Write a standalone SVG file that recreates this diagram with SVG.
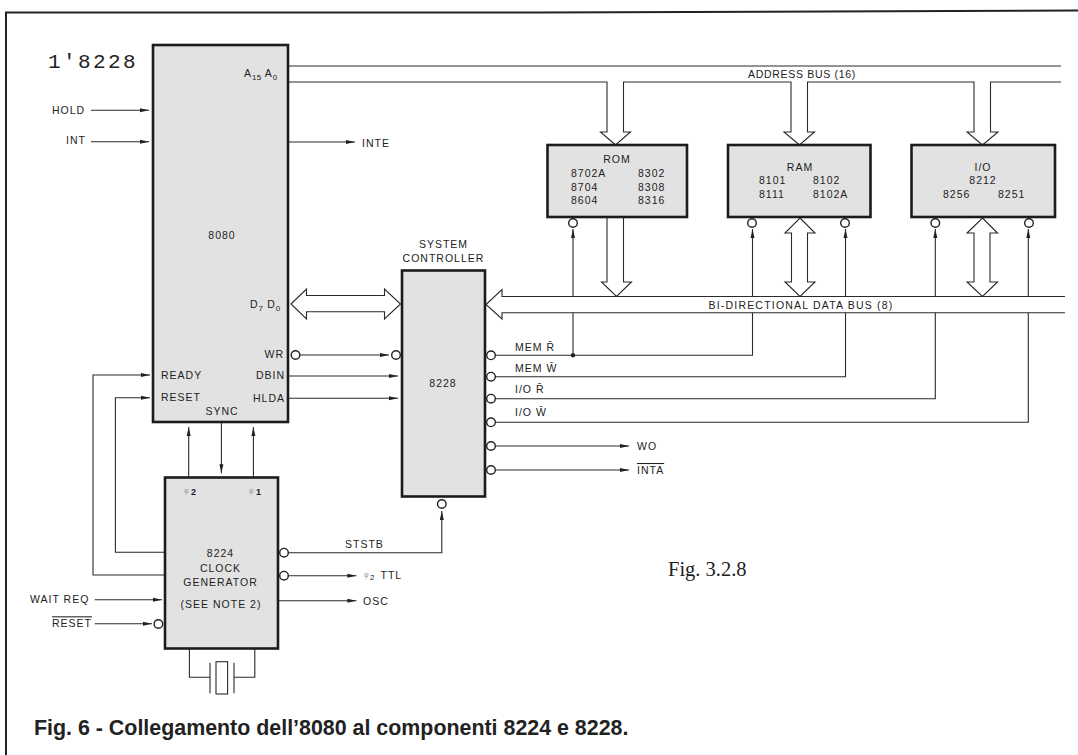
<svg xmlns="http://www.w3.org/2000/svg" width="1078" height="755" viewBox="0 0 1078 755">
<defs>
<marker id="ah" markerUnits="userSpaceOnUse" markerWidth="10" markerHeight="6" refX="9" refY="3" orient="auto"><path d="M0,1 L9,3 L0,5 Z" fill="#222"/></marker>
</defs>
<style>
text{font-family:"Liberation Sans",Arial,sans-serif;font-size:10.500px;fill:#222;letter-spacing:1px}
.b{fill:#e2e2e2;stroke:#1c1c1c;stroke-width:2.600}
.l{fill:none;stroke:#2a2a2a;stroke-width:1.100}
.a{fill:none;stroke:#2a2a2a;stroke-width:1.100;marker-end:url(#ah)}
.h{fill:#fff;stroke:#2a2a2a;stroke-width:1.100}
.o{fill:#fff;stroke:#222;stroke-width:1.400}
.s{font-size:8px;letter-spacing:.3px}
.p{font-size:7px;letter-spacing:0;fill:#999}
.d{font-size:9px;letter-spacing:0;font-weight:bold}
.m{text-anchor:middle}
</style>
<rect width="1078" height="755" fill="#fff"/>
<g id="frame"><path d="M6,755 V12.500 H540 L1078,10.500" fill="none" stroke="#222" stroke-width="2"/></g>
<g id="connectors">
<path class="l" d="M288,66 H1061"/>
<path class="l" d="M288,82 H607 V132 H600.500 L615.500,145 L630.500,132 H623.500 V82 H791 V132 H784 L799.500,145 L814.500,132 H807.500 V82 H974 V132 H967 L982.500,145 L998,132 H990.500 V82 H1061"/>
<path class="h" d="M607,217 V282 H601.500 L616.500,296.500 L631.500,282 H623.500 V217 Z"/>
<path class="h" d="M800,218 L815,233 H807.500 V282 H815 L800,296.500 L785,282 H791.500 V233 H785 Z"/>
<path class="h" d="M982.500,218 L997.500,233 H990 V282 H997.500 L982.500,296.500 L967,282 H974 V233 H967 Z"/>
<path class="h" d="M1065,296.500 H502 V289.500 L486,304.500 L502,319 V312.700 H1065"/>
<path class="h" d="M291,304 L306.500,289 V295.500 H384.500 V289 L400.500,304 L384.500,319 V311.700 H306.500 V319 Z"/>
<path class="l" d="M495,355.300 H752.500 V312.700"/>
<path class="a" d="M752.500,296.500 V229"/>
<path class="l" d="M573,355.300 V312.700"/>
<path class="a" d="M573,296.500 V229"/>
<circle cx="573" cy="355.300" r="2.200" fill="#222"/>
<path class="l" d="M495,376.700 H845.500 V312.700"/>
<path class="a" d="M845.500,296.500 V229"/>
<path class="l" d="M495,398.700 H935.300 V312.700"/>
<path class="a" d="M935.300,296.500 V229"/>
<path class="l" d="M495,422.300 H1028.300 V312.700"/>
<path class="a" d="M1028.300,296.500 V229"/>
<path class="a" d="M495,446 H629"/>
<path class="a" d="M495,470 H629"/>
<path class="a" d="M91,110.300 H149"/>
<path class="a" d="M91,141.700 H149"/>
<path class="a" d="M288,142 H355"/>
<path class="a" d="M299.500,355 H389"/>
<path class="a" d="M288,376 H398"/>
<path class="a" d="M288,398.300 H398"/>
<path class="a" d="M164.600,575 H93 V375 H150"/>
<path class="a" d="M164.600,552.300 H115.400 V397.700 H150"/>
<path class="a" d="M188.700,477 V427"/>
<path class="a" d="M253.400,477 V427"/>
<path class="a" d="M221.400,423 V473.300"/>
<path class="a" d="M288,552.700 H441.800 V511"/>
<path class="a" d="M288,575.700 H356.400"/>
<path class="a" d="M278,600.700 H356.400"/>
<path class="a" d="M94.700,599.700 H162"/>
<path class="a" d="M94.700,623.700 H152"/>
<path class="l" d="M189.400,649 V677.300 H210 M210,662.700 V693.300 M254.800,649 V677.300 H234 M234,662.700 V693.300"/>
<rect class="l" x="216" y="661.700" width="11.600" height="32.300"/>
</g>
<g id="cpu8080">
<rect class="b" x="153" y="45" width="135" height="377"/>
<text x="222" y="239" class="m">8080</text>
<text x="244" y="77">A<tspan class="s" dy="3">15</tspan><tspan dy="-3"> A</tspan><tspan class="s" dy="3">0</tspan></text>
<text x="250" y="308">D<tspan class="s" dy="3">7</tspan><tspan dy="-3"> D</tspan><tspan class="s" dy="3">0</tspan></text>
<text x="284" y="358.300" text-anchor="end">WR</text>
<text x="285" y="379.300" text-anchor="end">DBIN</text>
<text x="285" y="401.700" text-anchor="end">HLDA</text>
<text x="161" y="379.300">READY</text>
<text x="161" y="401.300">RESET</text>
<text x="222" y="415.300" class="m">SYNC</text>
<circle class="o" cx="295.500" cy="355" r="4.300"/>
</g>
<g id="controller8228">
<rect class="b" x="402" y="270.500" width="83" height="226"/>
<text x="443" y="387" class="m">8228</text>
<circle class="o" cx="396" cy="355" r="4.300"/>
<circle class="o" cx="491" cy="355.300" r="4.300"/>
<circle class="o" cx="491" cy="376.700" r="4.300"/>
<circle class="o" cx="491" cy="398.700" r="4.300"/>
<circle class="o" cx="491" cy="422.300" r="4.300"/>
<circle class="o" cx="491" cy="446" r="4.300"/>
<circle class="o" cx="491" cy="470" r="4.300"/>
<circle class="o" cx="441.800" cy="504" r="4.300"/>
</g>
<g id="rom">
<rect class="b" x="547.500" y="145" width="139.500" height="72"/>
<text x="617" y="163" class="m">ROM</text>
<text x="571" y="177">8702A</text><text x="638" y="177">8302</text>
<text x="571" y="191">8704</text><text x="638" y="191">8308</text>
<text x="571" y="204">8604</text><text x="638" y="204">8316</text>
<circle class="o" cx="573" cy="223" r="4.300"/>
</g>
<g id="ram">
<rect class="b" x="728" y="145" width="142.500" height="72"/>
<text x="800" y="170.700" class="m">RAM</text>
<text x="759" y="184.300">8101</text><text x="813" y="184.300">8102</text>
<text x="759" y="197.700">8111</text><text x="813" y="197.700">8102A</text>
<circle class="o" cx="752" cy="223" r="4.300"/>
<circle class="o" cx="845" cy="223" r="4.300"/>
</g>
<g id="io">
<rect class="b" x="911.500" y="145" width="143.500" height="72"/>
<text x="983" y="170.700" class="m">I/O</text>
<text x="983" y="184.300" class="m">8212</text>
<text x="943" y="197.700">8256</text><text x="998" y="197.700">8251</text>
<circle class="o" cx="935.300" cy="223" r="4.300"/>
<circle class="o" cx="1029" cy="223" r="4.300"/>
</g>
<g id="clock8224">
<rect class="b" x="165" y="477.500" width="113" height="171"/>
<text x="184" y="493" class="p">φ</text><text x="191" y="495" class="d">2</text>
<text x="249" y="493" class="p">φ</text><text x="256" y="495" class="d">1</text>
<text x="220.500" y="556.700" class="m">8224</text>
<text x="220.500" y="571.700" class="m">CLOCK</text>
<text x="220.500" y="585.700" class="m">GENERATOR</text>
<text x="221" y="608" class="m">(SEE NOTE 2)</text>
<circle class="o" cx="284" cy="552.700" r="4.300"/>
<circle class="o" cx="284" cy="575.700" r="4.300"/>
<circle class="o" cx="158.400" cy="624" r="4.300"/>
</g>
<g id="labels">
<text x="48" y="68" style="font-family:'Liberation Mono',monospace;font-size:21px;letter-spacing:2.400px">1'8228</text>
<text x="52" y="114.300">HOLD</text>
<text x="66" y="144.300">INT</text>
<text x="362" y="147">INTE</text>
<text x="443.500" y="248" class="m">SYSTEM</text>
<text x="443.500" y="261.700" class="m">CONTROLLER</text>
<text x="802" y="78" class="m" style="letter-spacing:.7px">ADDRESS BUS (16)</text>
<text x="801" y="309" class="m" style="letter-spacing:1.200px">BI-DIRECTIONAL DATA BUS (8)</text>
<text x="515" y="350.700">MEM R̄</text>
<text x="515" y="372">MEM W̄</text>
<text x="515" y="393">I/O R̄</text>
<text x="515" y="416">I/O W̄</text>
<text x="637" y="450">WO</text>
<text x="637" y="474" style="text-decoration:overline">INTA</text>
<text x="345" y="548">STSTB</text>
<text x="364" y="577" class="p">φ</text><text x="370" y="580" class="s">2</text><text x="380.500" y="579.300">TTL</text>
<text x="363" y="605">OSC</text>
<text x="30" y="603.300">WAIT REQ</text>
<text x="52" y="627.300" style="text-decoration:overline">RESET</text>
<text x="668" y="575.700" style="font-family:'Liberation Serif',serif;font-size:20.500px;letter-spacing:0">Fig. 3.2.8</text>
<text x="34" y="735" style="font-size:21.400px;font-weight:bold;letter-spacing:0">Fig. 6 - Collegamento dell’8080 al componenti 8224 e 8228.</text>
</g>
</svg>
